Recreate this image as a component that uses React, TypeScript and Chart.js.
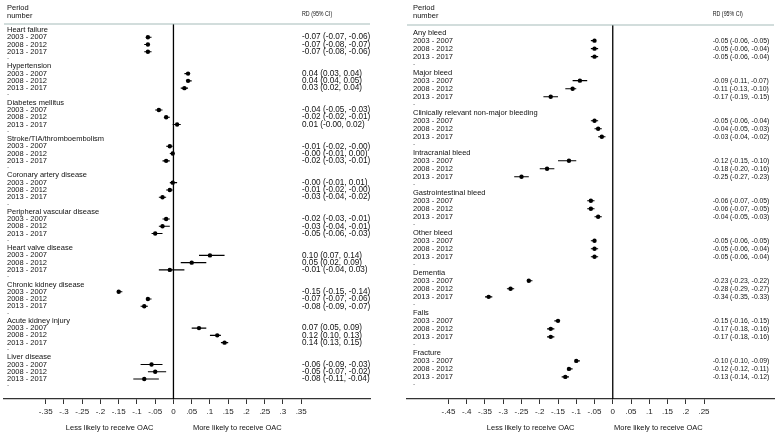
import React, { useEffect, useRef } from "react";
import { Chart, registerables } from "chart.js";

Chart.register(...registerables);

const periods = ["2003 - 2007", "2008 - 2012", "2013 - 2017"];

const leftGroups = [
  "Heart failure",
  "Hypertension",
  "Diabetes mellitus",
  "Stroke/TIA/thromboembolism",
  "Coronary artery disease",
  "Peripheral vascular disease",
  "Heart valve disease",
  "Chronic kidney disease",
  "Acute kidney injury",
  "Liver disease",
];
const leftEst = [
  -0.07, -0.07, -0.07,
  0.04, 0.04, 0.03,
  -0.04, -0.02, 0.01,
  -0.01, -0.002, -0.02,
  -0.002, -0.01, -0.03,
  -0.02, -0.03, -0.05,
  0.10, 0.05, -0.01,
  -0.15, -0.07, -0.08,
  0.07, 0.12, 0.14,
  -0.06, -0.05, -0.08,
];
const leftLo = [
  -0.07, -0.08, -0.08,
  0.03, 0.04, 0.02,
  -0.05, -0.02, -0.002,
  -0.02, -0.01, -0.03,
  -0.01, -0.02, -0.04,
  -0.03, -0.04, -0.06,
  0.07, 0.02, -0.04,
  -0.15, -0.07, -0.09,
  0.05, 0.10, 0.13,
  -0.09, -0.07, -0.11,
];
const leftHi = [
  -0.06, -0.07, -0.06,
  0.04, 0.05, 0.04,
  -0.03, -0.01, 0.02,
  -0.002, 0.00, -0.01,
  0.01, -0.002, -0.02,
  -0.01, -0.01, -0.03,
  0.14, 0.09, 0.03,
  -0.14, -0.06, -0.07,
  0.09, 0.13, 0.15,
  -0.03, -0.02, -0.04,
];

const rightGroups = [
  "Any bleed",
  "Major bleed",
  "Clinically relevant non-major bleeding",
  "Intracranial bleed",
  "Gastrointestinal bleed",
  "Other bleed",
  "Dementia",
  "Falls",
  "Fracture",
];
const rightEst = [
  -0.05, -0.05, -0.05,
  -0.09, -0.11, -0.17,
  -0.05, -0.04, -0.03,
  -0.12, -0.18, -0.25,
  -0.06, -0.06, -0.04,
  -0.05, -0.05, -0.05,
  -0.23, -0.28, -0.34,
  -0.15, -0.17, -0.17,
  -0.10, -0.12, -0.13,
];
const rightLo = [
  -0.06, -0.06, -0.06,
  -0.11, -0.13, -0.19,
  -0.06, -0.05, -0.04,
  -0.15, -0.20, -0.27,
  -0.07, -0.07, -0.05,
  -0.06, -0.06, -0.06,
  -0.23, -0.29, -0.35,
  -0.16, -0.18, -0.18,
  -0.10, -0.12, -0.14,
];
const rightHi = [
  -0.05, -0.04, -0.04,
  -0.07, -0.10, -0.15,
  -0.04, -0.03, -0.02,
  -0.10, -0.16, -0.23,
  -0.05, -0.05, -0.03,
  -0.05, -0.04, -0.04,
  -0.22, -0.27, -0.33,
  -0.15, -0.16, -0.16,
  -0.09, -0.11, -0.12,
];

const leftTicks = [-0.35, -0.3, -0.25, -0.2, -0.15, -0.1, -0.05, 0, 0.05, 0.1, 0.15, 0.2, 0.25, 0.3, 0.35];
const rightTicks = [-0.45, -0.4, -0.35, -0.3, -0.25, -0.2, -0.15, -0.1, -0.05, 0, 0.05, 0.1, 0.15, 0.2, 0.25];

const FONT = "'Liberation Sans', Arial, Helvetica, sans-serif";

const fmtTick = (v: number) => {
  if (Math.abs(v) < 1e-9) return "0";
  const s = Math.abs(v).toFixed(2).replace(/0$/, "").replace(/^0/, "");
  return (v < 0 ? "-" : "") + s;
};
const fmt = (v: number) => v.toFixed(2);

type PanelCfg = {
  groups: string[];
  est: number[];
  lo: number[];
  hi: number[];
  ticks: number[];
  xMin: number;
  xMax: number;
  padLeft: number;
  padRight: number;
  top: number;
  firstRow: number;
  rowGap: number;
  labelX: number;
  rdX: number;
  rdFont: number;
  headY1: number;
  headY2: number;
};

function Panel({ cfg, left }: { cfg: PanelCfg; left: number }) {
  const ref = useRef<HTMLCanvasElement>(null);
  useEffect(() => {
    const c = cfg;
    const nRows = c.groups.length * 5;
    const axisY = 402;
    const yMin = -(c.firstRow - c.top) / c.rowGap;
    const yMax = (axisY - c.firstRow) / c.rowGap;
    const points: any[] = [];
    const whisk: any[] = [];
    c.groups.forEach((g, gi) => {
      for (let k = 0; k < 3; k++) {
        const i = gi * 3 + k;
        const row = gi * 5 + 1 + k;
        points.push({ x: c.est[i], y: row });
        whisk.push({ x: c.lo[i], y: row }, { x: c.hi[i], y: row }, { x: null, y: null });
      }
    });

    const textPlugin = {
      id: "forestText",
      afterDraw(chart: any) {
        const ctx = chart.ctx;
        const ys = chart.scales.y;
        const xs = chart.scales.x;
        const ca = chart.chartArea;
        ctx.save();
        // top rule
        ctx.strokeStyle = "#a6bcba";
        ctx.lineWidth = 1.2;
        ctx.beginPath();
        ctx.moveTo(ca.left, ca.top);
        ctx.lineTo(ca.right, ca.top);
        ctx.stroke();

        ctx.fillStyle = "#111";
        ctx.textBaseline = "middle";
        ctx.textAlign = "left";
        ctx.font = `7.5px ${FONT}`;
        ctx.fillText("Period", c.labelX, c.headY1);
        ctx.fillText("number", c.labelX, c.headY2);
        // RD header (condensed)
        ctx.save();
        ctx.translate(c.rdX, 14);
        ctx.scale(0.76, 1);
        ctx.font = `7px ${FONT}`;
        ctx.fillText("RD (95% CI)", 0, 0);
        ctx.restore();

        for (let r = 0; r < nRows; r++) {
          const gi = Math.floor(r / 5);
          const k = r % 5;
          const y = ys.getPixelForValue(r);
          ctx.font = `7.5px ${FONT}`;
          let label = "";
          if (k === 0) label = c.groups[gi];
          else if (k === 4) label = ".";
          else label = periods[k - 1];
          ctx.fillText(label, c.labelX, k === 4 ? y - 2 : y);
          if (k >= 1 && k <= 3) {
            const i = gi * 3 + k - 1;
            ctx.font = `${c.rdFont}px ${FONT}`;
            ctx.fillText(`${fmt(c.est[i])} (${fmt(c.lo[i])}, ${fmt(c.hi[i])})`, c.rdX, y);
          }
        }
        // axis side titles
        ctx.font = `7.5px ${FONT}`;
        ctx.textAlign = "center";
        const t0 = c.ticks[0];
        const t1 = c.ticks[c.ticks.length - 1];
        ctx.fillText("Less likely to receive OAC", xs.getPixelForValue(t0 / 2), 428);
        ctx.fillText("More likely to receive OAC", xs.getPixelForValue(t1 / 2), 428);
        ctx.restore();
      },
    };

    const chart = new Chart(ref.current!, {
      type: "scatter",
      data: {
        datasets: [
          {
            data: points,
            pointRadius: 2.2,
            pointBackgroundColor: "#000",
            pointBorderWidth: 0,
            showLine: false,
          },
          {
            data: whisk,
            showLine: true,
            spanGaps: false,
            borderColor: "#000",
            borderWidth: 1.1,
            pointRadius: 0,
          },
          {
            data: [
              { x: 0, y: yMin },
              { x: 0, y: yMax },
            ],
            showLine: true,
            borderColor: "#000",
            borderWidth: 1.3,
            pointRadius: 0,
          },
        ],
      } as any,
      options: {
        animation: false,
        responsive: false,
        layout: { padding: { left: c.padLeft, right: c.padRight, top: c.top, bottom: 13.4 } },
        plugins: { legend: { display: false }, tooltip: { enabled: false } },
        scales: {
          x: {
            type: "linear",
            min: c.xMin,
            max: c.xMax,
            border: { display: true, color: "#333", width: 1.3 },
            grid: { drawOnChartArea: false, drawTicks: true, tickLength: 5, color: "#333", lineWidth: 1 },
            afterBuildTicks: (scale: any) => {
              scale.ticks = c.ticks.map((v) => ({ value: v }));
            },
            ticks: {
              autoSkip: false,
              maxRotation: 0,
              padding: 3,
              color: "#222",
              font: { size: 8, family: FONT },
              callback: (v: any) => fmtTick(Number(v)),
            },
          },
          y: {
            type: "linear",
            display: false,
            reverse: true,
            min: yMin,
            max: yMax,
          },
        },
      } as any,
      plugins: [textPlugin],
    });
    return () => chart.destroy();
  }, []);
  return (
    <div style={{ position: "absolute", left, top: 0, width: 389, height: 433 }}>
      <canvas ref={ref} width={389} height={433} style={{ width: 389, height: 433, display: "block" }} />
    </div>
  );
}

const leftCfg: PanelCfg = {
  groups: leftGroups,
  est: leftEst,
  lo: leftLo,
  hi: leftHi,
  ticks: leftTicks,
  xMin: -171.3 / 369,
  xMax: (370 - 171.3) / 369,
  padLeft: 0,
  padRight: 19,
  top: 24,
  firstRow: 30,
  rowGap: 7.33,
  labelX: 7,
  rdX: 302,
  rdFont: 8.2,
  headY1: 8,
  headY2: 15.5,
};

const rightCfg: PanelCfg = {
  groups: rightGroups,
  est: rightEst,
  lo: rightLo,
  hi: rightHi,
  ticks: rightTicks,
  xMin: -(226 - 18) / 369,
  xMax: (389 - 226) / 369,
  padLeft: 18,
  padRight: 0,
  top: 25,
  firstRow: 32.7,
  rowGap: 8.07,
  labelX: 24,
  rdX: 323.7,
  rdFont: 6.8,
  headY1: 8.3,
  headY2: 16,
};

export default function App() {
  return (
    <div style={{ position: "absolute", left: 0, top: 0, width: 778, height: 433, background: "#fff", overflow: "hidden" }}>
      <Panel cfg={leftCfg} left={0} />
      <Panel cfg={rightCfg} left={389} />
    </div>
  );
}
